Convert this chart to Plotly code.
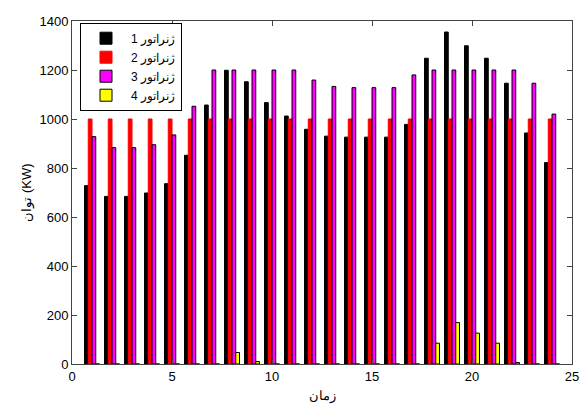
import plotly.graph_objects as go

hours = list(range(1, 25))
gen1 = [728, 684, 684, 698, 736, 852, 1057, 1199, 1152, 1067, 1012, 958,
        930, 926, 926, 926, 978, 1248, 1355, 1299, 1248, 1146, 943, 822]
gen2 = [1000] * 24
gen3 = [928, 883, 883, 895, 935, 1052, 1200, 1200, 1200, 1200, 1200, 1159,
        1133, 1128, 1128, 1128, 1180, 1200, 1200, 1200, 1200, 1200, 1146, 1020]
gen4 = [0, 0, 0, 0, 0, 0, 0, 47, 10, 0, 0, 0,
        0, 0, 0, 0, 0, 85, 169, 126, 85, 6, 0, 0]

names = ["ژنراتور 1", "ژنراتور 2", "ژنراتور 3", "ژنراتور 4"]
colors = ["#000000", "#ff0000", "#ff00ff", "#ffff00"]
edges = ["#000000", "#ff0000", "#000000", "#000000"]
series = [gen1, gen2, gen3, gen4]

fig = go.Figure()
for nm, vals, c, e in zip(names, series, colors, edges):
    fig.add_trace(go.Bar(x=hours, y=vals, name=nm, marker=dict(color=c, line=dict(color=e, width=1))))

fig.update_layout(
    width=581, height=406,
    margin=dict(l=72, r=9, t=21, b=42, autoexpand=False),
    paper_bgcolor="white", plot_bgcolor="white",
    barmode="group", bargap=0.25, bargroupgap=0,
    font=dict(family="Liberation Sans, Arial", size=12, color="black"),
    showlegend=True,
    legend=dict(x=0.016, y=0.995, xanchor="left", yanchor="top",
                bgcolor="white", bordercolor="black", borderwidth=1,
                font=dict(size=12), tracegroupgap=0, itemwidth=40),
    xaxis=dict(range=[0, 25], tickvals=[0, 5, 10, 15, 20, 25], ticks="inside", ticklen=5,
               showline=True, mirror="ticks", linecolor="#444", linewidth=1, showgrid=False,
               zeroline=False, automargin=False, tickfont=dict(size=13),
               title=dict(text="زمان", standoff=8, font=dict(size=13))),
    yaxis=dict(range=[0, 1400], tickvals=list(range(0, 1401, 200)), ticks="inside", ticklen=5,
               showline=True, mirror="ticks", linecolor="#444", linewidth=1, showgrid=False,
               zeroline=False, automargin=False, tickfont=dict(size=13),
               title=dict(text="توان (KW)", standoff=4, font=dict(size=13))),
)

fig.write_html("out.html", config={"displayModeBar": False},
               post_script="document.body.style.margin='0';")
